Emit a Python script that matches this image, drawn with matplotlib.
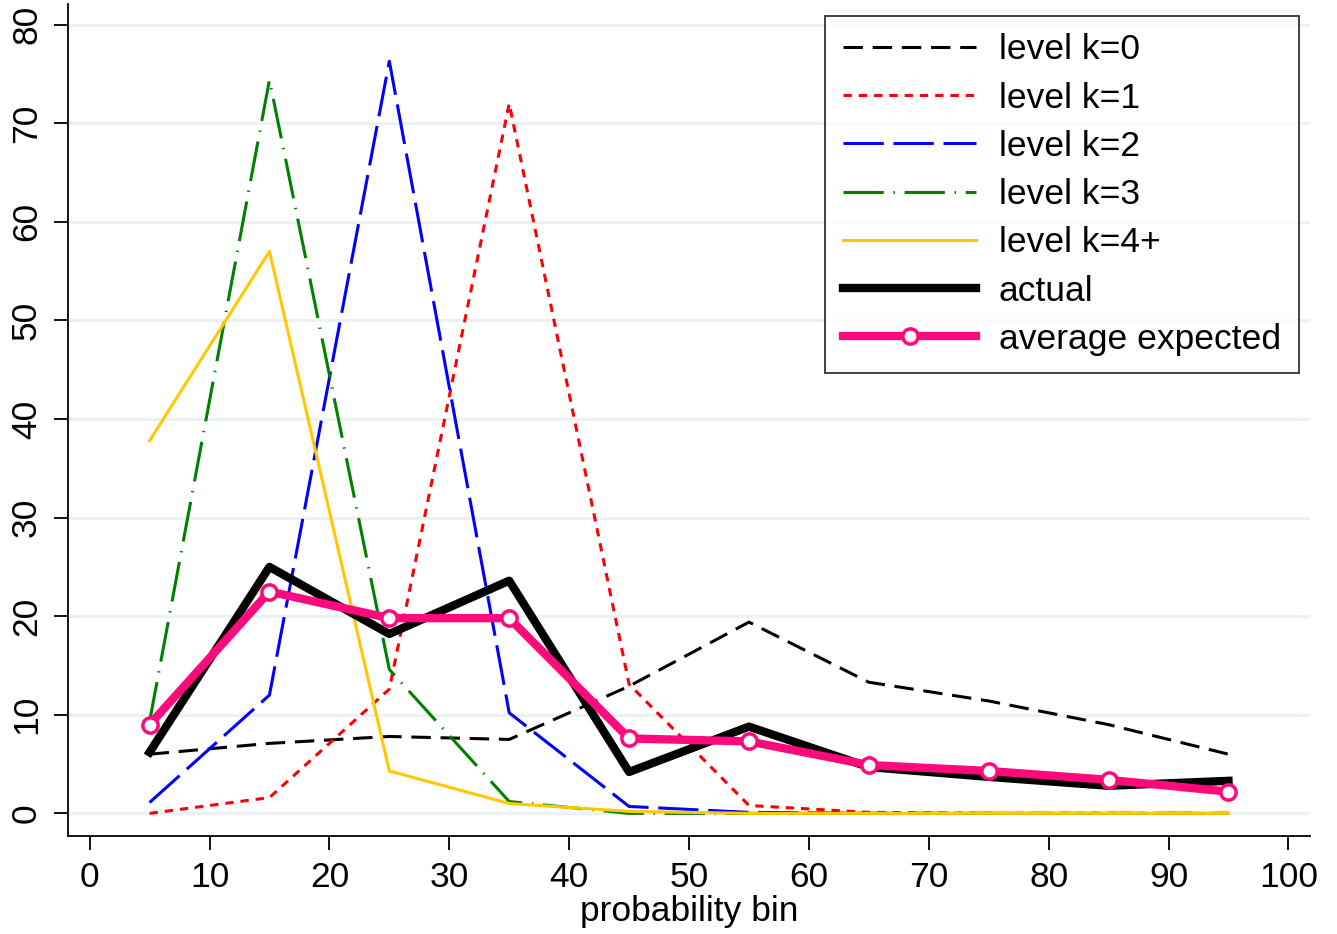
import matplotlib
matplotlib.use("Agg")
import matplotlib.pyplot as plt

plt.rcParams["font.family"] = ["Liberation Sans", "DejaVu Sans"]
plt.rcParams["lines.scale_dashes"] = False

# Daten
bins = [5, 15, 25, 35, 45, 55, 65, 75, 85, 95]
level0 = [6.0, 7.1, 7.8, 7.5, 12.9, 19.4, 13.3, 11.4, 9.0, 6.0]
level1 = [0.0, 1.6, 12.6, 72.0, 13.1, 0.8, 0.1, 0.0, 0.0, 0.0]
level2 = [1.1, 12.0, 76.3, 10.2, 0.7, 0.1, 0.0, 0.0, 0.0, 0.0]
level3 = [9.3, 74.4, 14.6, 1.2, 0.0, 0.0, 0.0, 0.0, 0.0, 0.0]
level4 = [37.8, 57.0, 4.3, 1.0, 0.2, 0.0, 0.0, 0.0, 0.0, 0.0]
actual = [6.2, 25.0, 18.2, 23.6, 4.2, 8.8, 4.7, 3.7, 2.8, 3.3]
avg_expected = [9.0, 22.5, 19.8, 19.8, 7.6, 7.3, 4.9, 4.3, 3.4, 2.2]

xticks = list(range(0, 101, 10))
yticks = list(range(0, 81, 10))

fig = plt.figure(figsize=(13.37, 9.34), dpi=100)
ax = fig.add_axes([0.0509, 0.1052, 0.9289, 0.8905])

ax.plot(bins, level0, color="black", lw=2.2, dashes=(14, 7), label="level k=0")
ax.plot(bins, level1, color="#FF0000", lw=2.2, dashes=(6, 5), label="level k=1")
ax.plot(bins, level2, color="#0000FF", lw=2.2, dashes=(29, 7), label="level k=2")
ax.plot(bins, level3, color="#008000", lw=2.2, dashes=(29, 7, 1, 7), label="level k=3")
ax.plot(bins, level4, color="#FFC800", lw=2.2, label="level k=4+")
ax.plot(bins, actual, color="black", lw=6.0, label="actual")
ax.plot(bins, avg_expected, color="#FF0A7C", lw=6.0, marker="o", ms=11,
        mfc="white", mec="#FF0A7C", mew=2.5, label="average expected")

ax.set_xlim(-1.8, 101.8)
ax.set_ylim(-2.27, 82.1)
ax.set_xticks(xticks)
ax.set_yticks(yticks)
ax.tick_params(labelsize=25.5, length=10, width=1.3, pad=8)
for lab in ax.get_yticklabels():
    lab.set_rotation(90)
    lab.set_va("center")
ax.grid(axis="y", color="#EAF2F3", lw=2.2)
ax.set_axisbelow(True)
for s in ("top", "right"):
    ax.spines[s].set_visible(False)
for s in ("left", "bottom"):
    ax.spines[s].set_linewidth(1.3)
ax.set_xlabel("probability bin", fontsize=25.5, labelpad=1)

leg = ax.legend(loc="upper right", bbox_to_anchor=(0.991, 0.986), fontsize=25.5,
                handlelength=3.75, handletextpad=0.65, labelspacing=0.43,
                borderpad=0.5, frameon=True, fancybox=False, borderaxespad=0)
leg.get_frame().set_edgecolor("black")
leg.get_frame().set_linewidth(1.3)

fig.savefig("out.png", dpi=100, facecolor="white")
